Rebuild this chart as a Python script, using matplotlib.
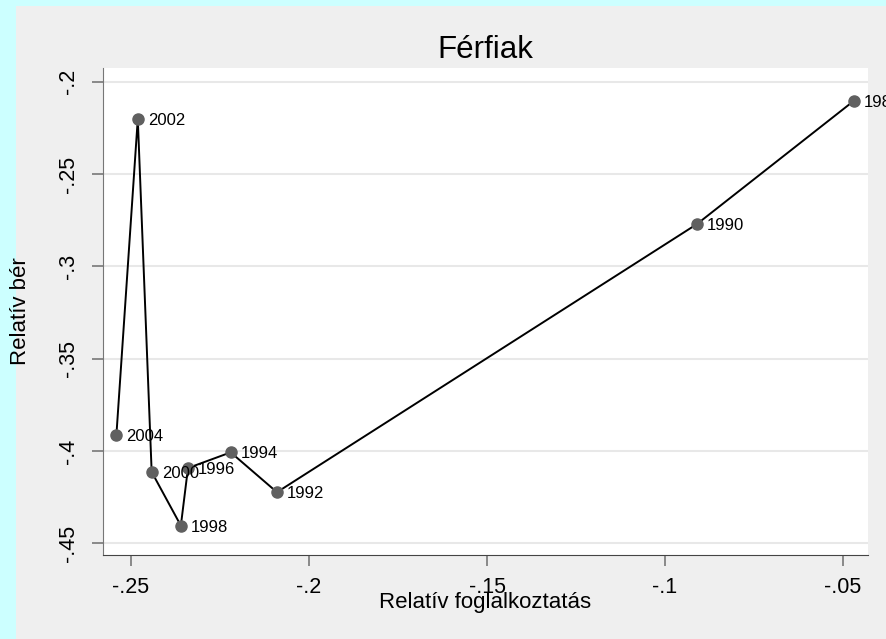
import matplotlib
matplotlib.use("Agg")
import matplotlib.pyplot as plt
from matplotlib.patches import Rectangle

years = [1988, 1990, 1992, 1994, 1996, 1998, 2000, 2002, 2004]
rel_emp = [-0.0469, -0.0910, -0.2090, -0.2220, -0.2340, -0.2360, -0.2442, -0.2481, -0.2541]
rel_wage = [-0.2103, -0.2771, -0.4224, -0.4008, -0.4093, -0.4405, -0.4114, -0.2202, -0.3912]

xticks = [-0.25, -0.2, -0.15, -0.1, -0.05]
xticklabels = ["-.25", "-.2", "-.15", "-.1", "-.05"]
yticks = [-0.2, -0.25, -0.3, -0.35, -0.4, -0.45]
yticklabels = ["-.2", "-.25", "-.3", "-.35", "-.4", "-.45"]

plt.rcParams["font.family"] = ["Liberation Sans", "DejaVu Sans"]

fig = plt.figure(figsize=(8.87, 6.39), dpi=100)
fig.patch.set_facecolor("#ccffff")
# grey graph region, kept behind the axes
fig.patches.append(Rectangle((16 / 887, 0), 1, (639 - 6) / 639, transform=fig.transFigure,
                             facecolor="#efefef", edgecolor="none", zorder=-10))

ax = fig.add_axes([103 / 887, (639 - 555) / 639, 765 / 887, 487 / 639])
ax.set_facecolor("white")

ax.plot(rel_emp, rel_wage, color="black", lw=1.4, zorder=2)
ax.plot(rel_emp, rel_wage, "o", color="#606060", ms=8, mec="#606060", zorder=3)
for x, y, yr in zip(rel_emp, rel_wage, years):
    ax.annotate(str(yr), (x, y), xytext=(7.2, -4.3), textcoords="offset points",
                fontsize=12, va="baseline", ha="left", color="black", zorder=4)

ax.set_xlim(-0.25787, -0.04298)
ax.set_ylim(-0.4564, -0.1926)
ax.set_xticks(xticks)
ax.set_xticklabels(xticklabels)
ax.set_yticks(yticks)
ax.set_yticklabels(yticklabels, rotation=90, va="center")

ax.grid(axis="y", color="#e8e8e8", lw=1.5)
ax.set_axisbelow(True)
for s in ["top", "right"]:
    ax.spines[s].set_visible(False)
ax.spines["left"].set_color("#777777")
ax.spines["bottom"].set_color("#444444")
ax.tick_params(axis="both", direction="out", length=8, width=1.2, color="#777777",
               labelsize=15.5, labelcolor="black")
ax.tick_params(axis="y", pad=9)
ax.tick_params(axis="x", pad=8)

ax.set_xlabel("Relatív foglalkoztatás", fontsize=16)
ax.xaxis.set_label_coords(0.5, -0.1088)
ax.xaxis.label.set_va("baseline")
ax.set_ylabel("Relatív bér", fontsize=16)
ax.yaxis.set_label_coords(-0.1007, 0.5)
ax.yaxis.label.set_va("baseline")

ax.set_title("Férfiak", fontsize=22.5, y=1.0212, va="baseline", pad=0)

fig.savefig("out.png", dpi=100, facecolor=fig.get_facecolor())
